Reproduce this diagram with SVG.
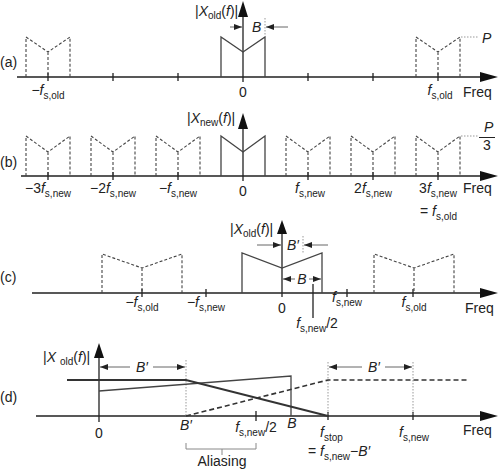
<svg xmlns="http://www.w3.org/2000/svg" width="500" height="471" viewBox="0 0 500 471">
<style>
text{font-family:"Liberation Sans",Arial,sans-serif;font-size:14px;fill:#222}
.i{font-style:italic}
.s{font-size:10px}
.ax{stroke:#222;stroke-width:1.3;fill:none}
.sp{stroke:#444;stroke-width:1.3;fill:none}
.ds{stroke:#444;stroke-width:1.1;stroke-dasharray:3 2;fill:none}
.dt{stroke:#999;stroke-width:1;stroke-dasharray:1.5 1.5;fill:none}
.ar{stroke:#666;stroke-width:1;fill:none;marker-end:url(#sa)}
.hd{fill:#111}
.thk{stroke:#333;stroke-width:2;fill:none}
.dsh2{stroke:#333;stroke-width:1.6;stroke-dasharray:5 3;fill:none}
</style>
<defs>
<marker id="sa" viewBox="0 0 8 6" refX="8" refY="3" markerWidth="8" markerHeight="6" markerUnits="userSpaceOnUse" orient="auto"><path d="M0,0 L8,3 L0,6 z" fill="#222"/></marker>
</defs>

<!-- Panel (a) -->
<g id="panel-a">
<text x="0" y="67">(a)</text>
<path class="ax" d="M17,77 H482 M243,82 V16 M48,73 V81 M113,73 V81 M178,73 V81 M308,73 V81 M373,73 V81 M438,73 V81"/>
<polygon class="hd" points="498,77 480,72 480,82"/>
<polygon class="hd" points="243,1 238,17 248,17"/>
<path class="sp" d="M221,77 V37 L243,52 L265,37 V77"/>
<path class="ds" d="M26,77 V37 L48,52 L70,37 V77 M48,52 V77"/>
<path class="ds" d="M416,77 V37 L438,52 L460,37 V77 M438,52 V77"/>
<path class="dt" d="M461,37 H478 M265,18 V37"/>
<text x="482" y="43" class="i">P</text>
<path class="ar" d="M230,27 H242"/>
<path class="ar" d="M288,27 H266"/>
<text x="252" y="32" class="i">B</text>
<text x="195" y="16">|<tspan class="i">X</tspan><tspan class="s" dy="3">old</tspan><tspan dy="-3">(</tspan><tspan class="i">f</tspan>)|</text>
<text x="48" y="95" text-anchor="middle">−<tspan class="i">f</tspan><tspan class="s" dy="4">s,old</tspan></text>
<text x="243" y="97" text-anchor="middle">0</text>
<text x="440" y="95" text-anchor="middle"><tspan class="i">f</tspan><tspan class="s" dy="4">s,old</tspan></text>
<text x="463" y="97">Freq</text>
</g>

<!-- Panel (b) -->
<g id="panel-b">
<text x="0" y="167">(b)</text>
<path class="ax" d="M21,176 H482 M243,181 V128 M48,172 V180 M113,172 V180 M178,172 V180 M308,172 V180 M373,172 V180 M438,172 V180"/>
<polygon class="hd" points="498,176 480,171 480,181"/>
<polygon class="hd" points="243,113 238,129 248,129"/>
<path class="sp" d="M221,176 V136 L243,152 L265,136 V176"/>
<path class="ds" d="M26,176 V136 L48,152 L70,136 V176 M48,152 V176"/>
<path class="ds" d="M91,176 V136 L113,152 L135,136 V176 M113,152 V176"/>
<path class="ds" d="M156,176 V136 L178,152 L200,136 V176 M178,152 V176"/>
<path class="ds" d="M286,176 V136 L308,152 L330,136 V176 M308,152 V176"/>
<path class="ds" d="M351,176 V136 L373,152 L395,136 V176 M373,152 V176"/>
<path class="ds" d="M416,176 V136 L438,152 L460,136 V176 M438,152 V176"/>
<path class="dt" d="M461,136 H478"/>
<text x="484" y="132" class="i" font-size="13">P</text>
<path d="M479,137.5 H495" stroke="#222" stroke-width="1"/>
<text x="483" y="150" font-size="13">3</text>
<text x="187" y="123">|<tspan class="i">X</tspan><tspan class="s" dy="3">new</tspan><tspan dy="-3">(</tspan><tspan class="i">f</tspan>)|</text>
<text x="48" y="193" text-anchor="middle">−3<tspan class="i">f</tspan><tspan class="s" dy="4">s,new</tspan></text>
<text x="113" y="193" text-anchor="middle">−2<tspan class="i">f</tspan><tspan class="s" dy="4">s,new</tspan></text>
<text x="178" y="193" text-anchor="middle">−<tspan class="i">f</tspan><tspan class="s" dy="4">s,new</tspan></text>
<text x="243" y="196" text-anchor="middle">0</text>
<text x="310" y="193" text-anchor="middle"><tspan class="i">f</tspan><tspan class="s" dy="4">s,new</tspan></text>
<text x="373" y="193" text-anchor="middle">2<tspan class="i">f</tspan><tspan class="s" dy="4">s,new</tspan></text>
<text x="438" y="193" text-anchor="middle">3<tspan class="i">f</tspan><tspan class="s" dy="4">s,new</tspan></text>
<text x="420" y="216">= <tspan class="i">f</tspan><tspan class="s" dy="4">s,old</tspan></text>
<text x="463" y="193">Freq</text>
</g>

<!-- Panel (c) -->
<g id="panel-c">
<text x="0" y="282">(c)</text>
<path class="ax" d="M32,293 H482 M282,297 V233 M142,289 V297 M206,289 V297 M347,289 V297 M413,289 V297 M313,284 V318"/>
<polygon class="hd" points="498,293 480,288 480,298"/>
<polygon class="hd" points="282,220 277,234 287,234"/>
<path class="sp" d="M242,293 V253 L282,268 L322,253 V293"/>
<path class="ds" d="M102,293 V254 L142,268 L182,254 V293 M142,268 V293"/>
<path class="ds" d="M374,293 V254 L414,268 L454,254 V293 M414,268 V293"/>
<path class="dt" d="M303,236 V253"/>
<path class="ar" d="M257,245 H281"/>
<path class="ar" d="M328,245 H304"/>
<text x="287" y="250" class="i">B′</text>
<path class="ar" d="M295,279 H283"/>
<path class="ar" d="M309,279 H321"/>
<text x="302" y="284" class="i" text-anchor="middle">B</text>
<text x="230" y="234">|<tspan class="i">X</tspan><tspan class="s" dy="3">old</tspan><tspan dy="-3">(</tspan><tspan class="i">f</tspan>)|</text>
<text x="142" y="307" text-anchor="middle">−<tspan class="i">f</tspan><tspan class="s" dy="4">s,old</tspan></text>
<text x="206" y="307" text-anchor="middle">−<tspan class="i">f</tspan><tspan class="s" dy="4">s,new</tspan></text>
<text x="282" y="313" text-anchor="middle">0</text>
<text x="347" y="302" text-anchor="middle"><tspan class="i">f</tspan><tspan class="s" dy="4">s,new</tspan></text>
<text x="414" y="307" text-anchor="middle"><tspan class="i">f</tspan><tspan class="s" dy="4">s,old</tspan></text>
<text x="317" y="328" text-anchor="middle"><tspan class="i">f</tspan><tspan class="s" dy="4">s,new</tspan><tspan dy="-4">/2</tspan></text>
<text x="465" y="313">Freq</text>
</g>

<!-- Panel (d) -->
<g id="panel-d">
<text x="0" y="402">(d)</text>
<path class="ax" d="M36,416 H482 M99,422 V357 M256,411 V421 M328,412 V420 M413,412 V420"/>
<polygon class="hd" points="498,416 480,411 480,421"/>
<polygon class="hd" points="99,343 94,358 104,358"/>
<path class="dt" d="M186,360 V416 M328,362 V416 M413,362 V416"/>
<path class="sp" d="M99,391 L291,376 V416"/>
<path class="thk" d="M67,380 H186 L328,416"/>
<path class="dsh2" d="M186,416 L328,380 H468"/>
<path class="ar" d="M130,367 H100"/>
<path class="ar" d="M153,367 H185"/>
<text x="142" y="372" class="i" text-anchor="middle">B′</text>
<path class="ar" d="M362,367 H329"/>
<path class="ar" d="M385,367 H412"/>
<text x="374" y="372" class="i" text-anchor="middle">B′</text>
<text x="43" y="362">|<tspan class="i">X</tspan><tspan class="s" dx="4" dy="3">old</tspan><tspan dy="-3">(</tspan><tspan class="i">f</tspan>)|</text>
<text x="99" y="438" text-anchor="middle">0</text>
<text x="186" y="430" class="i" text-anchor="middle">B′</text>
<text x="256" y="432" text-anchor="middle"><tspan class="i">f</tspan><tspan class="s" dy="4">s,new</tspan><tspan dy="-4">/2</tspan></text>
<text x="292" y="428" class="i" text-anchor="middle">B</text>
<text x="320" y="437"><tspan class="i">f</tspan><tspan class="s" dy="4">stop</tspan></text>
<text x="308" y="456">= <tspan class="i">f</tspan><tspan class="s" dy="4">s,new</tspan><tspan dy="-4">−</tspan><tspan class="i">B′</tspan></text>
<text x="414" y="437" text-anchor="middle"><tspan class="i">f</tspan><tspan class="s" dy="4">s,new</tspan></text>
<path d="M186,443 V449 H256 V443 M222,449 V455" stroke="#888" stroke-width="1" fill="none"/>
<text x="222" y="466" text-anchor="middle">Aliasing</text>
<text x="463" y="435">Freq</text>
</g>
</svg>
